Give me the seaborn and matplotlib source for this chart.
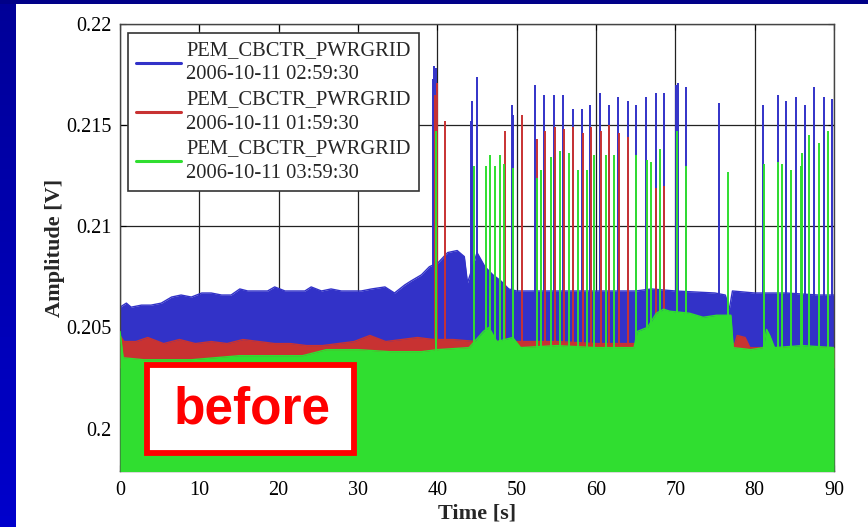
import numpy as np
import pandas as pd
import matplotlib
matplotlib.use("Agg")
import matplotlib.pyplot as plt
import seaborn as sns
from matplotlib.lines import Line2D
from matplotlib.patches import Rectangle

# Upper edge of the dense signal band for each run
blue_t = [0, 0.8, 1.4, 2.7, 3.9, 5.2, 6.5, 7.7, 9.0, 10.3, 11.5, 12.8, 14.0, 15.1,
          16.1, 17.4, 18.6, 19.5, 20.8, 22.0, 23.3, 24.1, 25.4, 26.6, 27.9, 29.2,
          30.4, 31.7, 33.4, 34.6, 35.9, 36.7, 38.0, 39.0, 40.1, 41.3, 42.5, 43.4,
          43.8, 44.3, 45.0, 46.0, 47.0, 48.0, 49.0, 50, 55, 60, 65, 67, 70, 75,
          76.3, 76.8, 77.2, 80, 84, 88, 90]
blue_top = [0.2060, 0.2062, 0.2060, 0.2061, 0.2061, 0.2062, 0.2065, 0.2066, 0.2065,
            0.2067, 0.2067, 0.2066, 0.2066, 0.2069, 0.2068, 0.2068, 0.2068, 0.2070,
            0.2068, 0.2068, 0.2068, 0.2070, 0.2068, 0.2069, 0.2068, 0.2068, 0.2068,
            0.2069, 0.2070, 0.2067, 0.2071, 0.2073, 0.2076, 0.2080, 0.2082, 0.2087,
            0.2088, 0.2085, 0.2072, 0.2078, 0.2087, 0.2080, 0.2076, 0.2073, 0.2069,
            0.2068, 0.2068, 0.2068, 0.2068, 0.2069, 0.2068, 0.2067, 0.2066, 0.2059,
            0.2068, 0.2067, 0.2067, 0.2066, 0.2066]

red_t = [0, 0.5, 2, 3.5, 5.5, 7.5, 9.5, 11.5, 13.5, 15.5, 17.5, 19.5, 21.5, 23.5,
         25.5, 27.5, 29.5, 31.5, 33.5, 35.5, 37.5, 39.5, 42, 45, 50, 55, 60, 65,
         77.5, 77.8, 78.8, 79.4, 90]
red_top = [0.2046, 0.2043, 0.2043, 0.2045, 0.2042, 0.2044, 0.2042, 0.2043, 0.2042,
           0.2044, 0.2043, 0.2042, 0.2042, 0.2041, 0.2041, 0.2042, 0.2043, 0.2046,
           0.2043, 0.2044, 0.2045, 0.2044, 0.2044, 0.2043, 0.2043, 0.2043, 0.2042,
           0.2042, 0.2042, 0.2046, 0.2045, 0.2040, 0.2040]

green_t = [0, 0.4, 3, 6, 9, 12, 15, 18, 20, 23, 26, 30, 34, 38, 40, 44, 45.8, 46.5,
           47.5, 49.5, 50.5, 55, 60, 64.8, 65.2, 66.5, 67.6, 68.5, 69.3, 71.8, 73.5,
           75.2, 77.0, 77.3, 79.5, 81.1, 81.5, 81.9, 82.5, 86, 90]
green_top = [0.2048, 0.2035, 0.2034, 0.2034, 0.2034, 0.2035, 0.2036, 0.2036, 0.2036,
             0.2036, 0.2039, 0.2039, 0.2038, 0.2038, 0.2039, 0.2040, 0.2048, 0.2050,
             0.2043, 0.2045, 0.2040, 0.2041, 0.2040, 0.2040, 0.2048, 0.2050, 0.2057,
             0.2059, 0.2058, 0.2057, 0.2055, 0.2056, 0.2056, 0.2040, 0.2039, 0.2040,
             0.2049, 0.2046, 0.2040, 0.2041, 0.2040]

# lower edge of each band (below the visible part)
blue_low = 0.2035
red_low = 0.2030
green_low = 0.1960

# Spikes: time and peak amplitude
blue_spike_t = [39.4, 39.6, 39.8, 44.2, 44.4, 45.0, 49.4, 49.6, 52.3, 53.5, 54.7, 55.9,
                57.1, 58.2, 59.3, 60.5, 61.6, 62.8, 64.0, 65.1, 66.3, 67.5, 68.6, 70.1,
                70.3, 71.4, 75.5, 81.1, 82.9, 84.0, 85.2, 86.3, 87.5, 88.7, 89.8]
blue_spike_top = [0.2173, 0.2179, 0.2178, 0.2152, 0.2162, 0.2174, 0.2160, 0.2155,
                  0.2170, 0.2165, 0.2165, 0.2165, 0.2158, 0.2158, 0.2160, 0.2166,
                  0.2160, 0.2164, 0.2162, 0.2160, 0.2164, 0.2166, 0.2166, 0.2170,
                  0.2171, 0.2169, 0.2161, 0.2160, 0.2165, 0.2162, 0.2164, 0.2160,
                  0.2169, 0.2164, 0.2163]

red_spike_t = [39.7, 39.9, 41.0, 48.5, 50.7, 52.5, 53.6, 54.8, 56.0, 57.1, 58.3, 59.4,
               60.6, 61.7, 62.9, 64.0, 66.4, 67.6, 68.6]
red_spike_top = [0.2165, 0.2171, 0.2152, 0.2147, 0.2155, 0.2143, 0.2147, 0.2149,
                 0.2148, 0.2149, 0.2146, 0.2149, 0.2147, 0.2150, 0.2146, 0.2144,
                 0.2118, 0.2119, 0.2120]

green_spike_t = [39.8, 44.6, 46.1, 46.7, 47.3, 47.9, 48.4, 49.5, 52.5, 53.1, 54.3,
                 55.4, 56.6, 57.7, 58.9, 59.8, 61.2, 62.3, 65.1, 66.4, 66.9, 68.1,
                 70.2, 71.4, 76.6, 81.2, 82.9, 83.4, 84.6, 85.8, 86.0, 86.9, 88.1, 89.3]
green_spike_top = [0.2147, 0.2130, 0.2130, 0.2135, 0.2130, 0.2135, 0.2131, 0.2129,
                   0.2124, 0.2128, 0.2134, 0.2137, 0.2136, 0.2128, 0.2128, 0.2135,
                   0.2135, 0.2135, 0.2135, 0.2133, 0.2132, 0.2138, 0.2147, 0.2130,
                   0.2127, 0.2131, 0.2132, 0.2131, 0.2128, 0.2130, 0.2136, 0.2145,
                   0.2141, 0.2147]

labels = ["PEM_CBCTR_PWRGRID\n2006-10-11 02:59:30",
          "PEM_CBCTR_PWRGRID\n2006-10-11 01:59:30",
          "PEM_CBCTR_PWRGRID\n2006-10-11 03:59:30"]
colors = ["#3232C8", "#C83232", "#30DE30"]

sns.set_style("ticks")
plt.rcParams["font.family"] = ["Liberation Serif", "DejaVu Serif"]

fig = plt.figure(figsize=(8.68, 5.27), dpi=100, facecolor="white")

# slide background: blue strip on the left, dark band on top
bg = fig.add_axes([0, 0, 16 / 868, 1])
bg.imshow(np.linspace(0, 1, 50).reshape(-1, 1), aspect="auto",
          cmap=matplotlib.colors.LinearSegmentedColormap.from_list("b", ["#000098", "#0000CC"]))
bg.set_axis_off()
fig.add_artist(Rectangle((0, 1 - 4 / 527), 1, 4 / 527, transform=fig.transFigure,
                         color="#000088", lw=0))

ax = fig.add_axes([120 / 868, 1 - 471 / 527, 714 / 868, 447 / 527])

bands = pd.concat([
    pd.DataFrame({"t": blue_t, "top": blue_top, "run": labels[0]}),
    pd.DataFrame({"t": red_t, "top": red_top, "run": labels[1]}),
    pd.DataFrame({"t": green_t, "top": green_top, "run": labels[2]}),
])
spikes = [(blue_spike_t, blue_spike_top, blue_low),
          (red_spike_t, red_spike_top, red_low),
          (green_spike_t, green_spike_top, green_low)]
lows = [blue_low, red_low, green_low]

for i, lab in enumerate(labels):
    d = bands[bands["run"] == lab]
    z = 2 + i
    ax.fill_between(d["t"], lows[i], d["top"], color=colors[i], lw=0, zorder=z)
    sns.lineplot(data=d, x="t", y="top", color=colors[i], lw=1.0, ax=ax,
                 legend=False, zorder=z, estimator=None, sort=False)
    st, stop, low = spikes[i]
    ax.vlines(st, low, stop, color=colors[i], lw=1.4, zorder=z + 0.5)

ax.set_xlim(0, 90)
ax.set_ylim(0.1979, 0.22)
ax.set_xticks(range(0, 91, 10))
ax.set_yticks([0.2, 0.205, 0.21, 0.215, 0.22])
ax.set_yticklabels(["0.2", "0.205", "0.21", "0.215", "0.22"])
ax.tick_params(direction="in", length=4, labelsize=14.5, colors="black",
               top=True, right=True)
ax.tick_params(axis="x", pad=7)
ax.tick_params(axis="y", pad=6)
ax.grid(True, color="#222222", lw=0.9)
ax.set_axisbelow(True)
for s in ax.spines.values():
    s.set_color("#444444")
    s.set_linewidth(1.0)

ax.set_xlabel("Time [s]", fontsize=16, fontweight="bold", labelpad=3)
ax.set_ylabel("Amplitude [V]", fontsize=16, fontweight="bold", labelpad=1)

handles = [Line2D([], [], color=c, lw=2.2) for c in colors]
leg = ax.legend(handles, labels, loc="upper left", bbox_to_anchor=(0.011, 0.98),
                borderaxespad=0, fontsize=14.8, frameon=True, fancybox=False,
                handlelength=2.2, handletextpad=0.25, labelspacing=0.28,
                borderpad=0.4)
leg.get_frame().set_edgecolor("#333333")
leg.get_frame().set_linewidth(1.2)
leg.get_frame().set_alpha(1)
for t in leg.get_texts():
    t.set_linespacing(1.38)
leg.set_zorder(10)

# "before" marker on the slide
fig.add_artist(Rectangle((147 / 868, 1 - 453 / 527), 207 / 868, 88 / 527,
                         transform=fig.transFigure, facecolor="white",
                         edgecolor="#FF0000", lw=4.2, zorder=20))
fig.text(252 / 868, 1 - 410 / 527, "before", color="#FF0000", fontsize=37,
         fontweight="bold", family=["Liberation Sans", "DejaVu Sans"],
         ha="center", va="center", zorder=21)

fig.savefig("out.png", dpi=100, facecolor=fig.get_facecolor())
